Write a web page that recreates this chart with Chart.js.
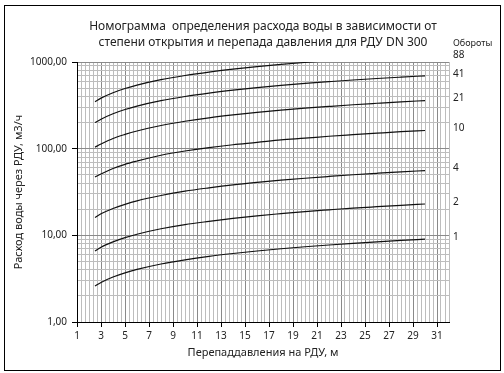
<!DOCTYPE html>
<html>
<head>
<meta charset="utf-8">
<script src="https://cdn.jsdelivr.net/npm/chart.js@4.4.1/dist/chart.umd.min.js"></script>
<style>
    body { margin: 0; background: #fff; }
    #chart { position: absolute; left: 0; top: 0; }
    #frame { position: absolute; left: 4px; top: 5px; width: 497px; height: 366px; border: 1px solid #000; box-sizing: border-box; pointer-events: none; }
</style>
</head>
<body>
<canvas id="chart" width="504" height="373"></canvas>
<div id="frame"></div>
<script>
// перепад давления, м
const dP = [2.5, 3, 4, 5, 6, 8, 10, 12, 14, 16, 18, 20, 22, 24, 26, 28, 30];

// расход, м3/ч, по оборотам
const rev88 = [349, 383, 442, 494, 541, 625, 699, 766, 827, 884, 938, 988, 1037, 1083, 1127, 1170, 1210];
const rev41 = [200, 219, 253, 283, 310, 358, 400, 438, 473, 506, 537, 566, 593, 620, 645, 669, 693];
const rev21 = [104, 113, 131, 146, 160, 185, 207, 227, 245, 262, 278, 293, 307, 321, 334, 347, 359];
const rev10 = [47, 51, 59, 66, 72, 84, 94, 103, 111, 118, 126, 132, 139, 145, 151, 157, 162];
const rev4 = [16.1, 17.7, 20.4, 22.8, 25.0, 28.8, 32.3, 35.3, 38.2, 40.8, 43.3, 45.6, 47.8, 50.0, 52.0, 54.0, 55.9];
const rev2 = [6.6, 7.3, 8.4, 9.4, 10.3, 11.9, 13.3, 14.5, 15.7, 16.8, 17.8, 18.8, 19.7, 20.6, 21.4, 22.2, 23.0];
const rev1 = [2.6, 2.86, 3.3, 3.69, 4.04, 4.67, 5.22, 5.72, 6.17, 6.6, 7.0, 7.38, 7.74, 8.08, 8.41, 8.73, 9.04];

const seriesNames = ['88', '41', '21', '10', '4', '2', '1'];
const seriesData = [rev88, rev41, rev21, rev10, rev4, rev2, rev1];

const xTickLabels = [1, 3, 5, 7, 9, 11, 13, 15, 17, 19, 21, 23, 25, 27, 29, 31];
const yTickLabels = [1, 10, 100, 1000];

const FONT = 'Noto Sans';
const TEXT = '#222';

// сетка: по X шаг 1/3, по Y 1..9 в каждой декаде
const xGrid = [];
for (let i = 0; i <= 93; i++) xGrid.push(1 + i / 3);
const yGrid = [];
[1, 10, 100].forEach(d => { for (let m = 1; m <= 9; m++) yGrid.push(d * m); });
yGrid.push(1000);

const isXMajor = v => xTickLabels.some(t => Math.abs(t - v) < 1e-6);
const isYMajor = v => yTickLabels.some(t => Math.abs(t - v) < 1e-6);

const labelsPlugin = {
    id: 'revLabels',
    afterDraw(chart) {
        const ctx = chart.ctx;
        const y = chart.scales.y;
        const top = chart.chartArea.top;
        ctx.save();
        ctx.fillStyle = TEXT;
        ctx.textAlign = 'left';
        ctx.textBaseline = 'middle';
        ctx.font = '9px "' + FONT + '"';
        ctx.fillText('Обороты', 453, top - 19);
        ctx.font = '10px "' + FONT + '"';
        seriesNames.forEach((name, i) => {
            const last = seriesData[i][seriesData[i].length - 1];
            const py = last > 1000 ? top - 7 : y.getPixelForValue(last) - 2;
            ctx.fillText(name, 453, py);
        });
        ctx.restore();
    }
};

const ctx = document.getElementById('chart').getContext('2d');
const chart = new Chart(ctx, {
    type: 'line',
    data: {
        datasets: seriesData.map((arr, i) => ({
            label: seriesNames[i],
            data: arr.map((v, j) => ({ x: dP[j], y: v })),
            borderColor: '#111',
            borderWidth: 1.2,
            pointRadius: 0,
            fill: false,
            cubicInterpolationMode: 'monotone'
        }))
    },
    options: {
        responsive: false,
        animation: false,
        devicePixelRatio: 1,
        layout: { padding: { left: 8, right: 55, top: 19, bottom: 10 } },
        plugins: {
            legend: { display: false },
            tooltip: { enabled: false },
            title: {
                display: true,
                fullSize: false,
                text: ['Номограмма  определения расхода воды в зависимости от',
                       'степени открытия и перепада давления для РДУ DN 300'],
                color: TEXT,
                font: { family: FONT, size: 12, weight: 'normal', lineHeight: '16px' },
                padding: { top: 0, bottom: 11 }
            }
        },
        scales: {
            x: {
                type: 'linear',
                min: 1,
                max: 32,
                afterBuildTicks: s => { s.ticks = xGrid.map(v => ({ value: v })); },
                afterFit: s => { s.height = 41; },
                ticks: {
                    autoSkip: false,
                    maxRotation: 0,
                    minRotation: 0,
                    padding: 3,
                    color: TEXT,
                    font: { family: FONT, size: 10 },
                    callback: v => isXMajor(v) ? String(Math.round(v)) : ''
                },
                grid: {
                    color: c => c.tick && isXMajor(c.tick.value) ? '#8a8a8a' : '#bdbdbd',
                    tickColor: c => c.tick && isXMajor(c.tick.value) ? '#000' : 'rgba(0,0,0,0)',
                    tickLength: 5
                },
                border: { color: '#000', width: 1 },
                title: {
                    display: true,
                    text: 'Перепаддавления на РДУ, м',
                    color: TEXT,
                    font: { family: FONT, size: 11 },
                    padding: { top: 0, bottom: 4 }
                }
            },
            y: {
                type: 'logarithmic',
                min: 1,
                max: 1000,
                afterBuildTicks: s => { s.ticks = yGrid.map(v => ({ value: v })); },
                afterFit: s => { s.width = 69; },
                ticks: {
                    autoSkip: false,
                    padding: 5,
                    color: TEXT,
                    font: { family: FONT, size: 10 },
                    callback: v => isYMajor(v) ? v.toFixed(2).replace('.', ',') : ''
                },
                grid: {
                    color: c => c.tick && isYMajor(c.tick.value) ? '#8a8a8a' : '#bdbdbd',
                    tickColor: c => c.tick && isYMajor(c.tick.value) ? '#000' : 'rgba(0,0,0,0)',
                    tickLength: 5
                },
                border: { color: '#000', width: 1 },
                title: {
                    display: true,
                    text: 'Расход воды через РДУ, м3/ч',
                    color: TEXT,
                    font: { family: FONT, size: 11 },
                    padding: { top: 4, bottom: 0 }
                }
            }
        }
    },
    plugins: [labelsPlugin]
});
</script>
</body>
</html>
